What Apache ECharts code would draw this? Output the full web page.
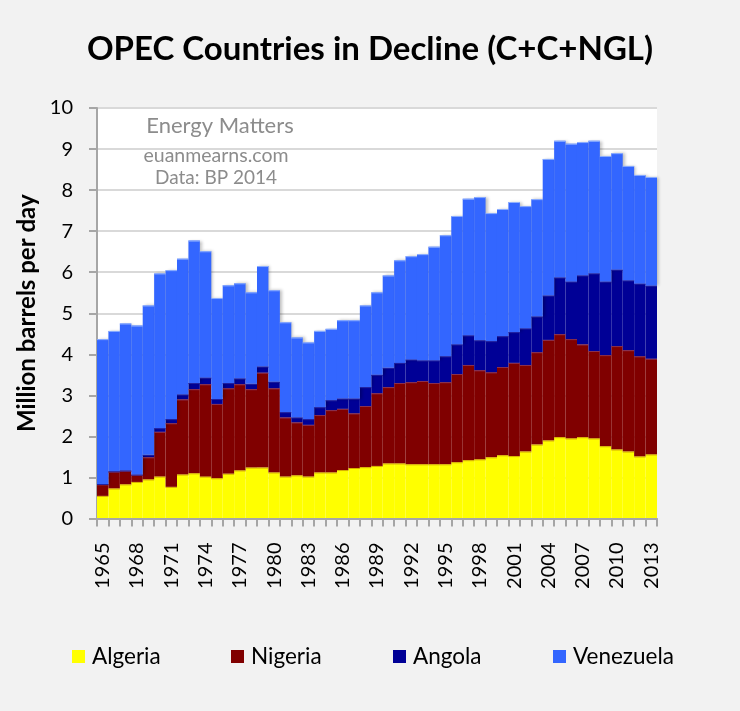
<!DOCTYPE html>
<html>
<head>
<meta charset="utf-8">
<script src="https://cdn.jsdelivr.net/npm/echarts@6/dist/echarts.min.js"></script>
<style>
html,body{margin:0;padding:0;background:#f2f2f2;}
#chart{width:740px;height:711px;}
</style>
</head>
<body>
<div id="chart"></div>
<script>
const years = [];
for (let y = 1965; y <= 2013; y++) years.push(String(y));

const algeria = [0.55,0.73,0.83,0.89,0.95,1.02,0.77,1.07,1.10,1.02,0.98,1.09,1.17,1.24,1.24,1.12,1.02,1.05,1.02,1.12,1.12,1.18,1.23,1.25,1.28,1.34,1.34,1.32,1.32,1.32,1.32,1.37,1.42,1.44,1.49,1.54,1.52,1.63,1.80,1.90,1.98,1.95,1.98,1.95,1.76,1.68,1.63,1.51,1.56];
const nigeria = [0.28,0.41,0.33,0.17,0.54,1.09,1.55,1.83,2.05,2.25,1.81,2.08,2.10,1.91,2.31,2.05,1.44,1.29,1.26,1.40,1.52,1.49,1.33,1.49,1.77,1.86,1.96,2.00,2.03,1.98,2.00,2.15,2.32,2.17,2.07,2.15,2.27,2.11,2.25,2.45,2.51,2.42,2.26,2.13,2.22,2.52,2.47,2.44,2.33];
const angola = [0.01,0.01,0.01,0.01,0.06,0.09,0.10,0.12,0.15,0.16,0.12,0.13,0.14,0.13,0.15,0.16,0.13,0.12,0.14,0.19,0.24,0.25,0.36,0.46,0.45,0.47,0.49,0.55,0.50,0.55,0.63,0.72,0.72,0.73,0.76,0.75,0.75,0.89,0.87,1.08,1.38,1.40,1.68,1.89,1.79,1.86,1.70,1.77,1.78];
const venezuela = [3.53,3.42,3.58,3.63,3.64,3.77,3.63,3.31,3.47,3.08,2.46,2.38,2.32,2.23,2.45,2.23,2.19,1.95,1.87,1.86,1.74,1.91,1.91,1.99,2.01,2.25,2.50,2.52,2.59,2.77,2.95,3.13,3.33,3.49,3.12,3.10,3.17,2.98,2.86,3.33,3.33,3.36,3.25,3.23,3.06,2.84,2.79,2.65,2.65];

const seriesNames = ['Algeria','Nigeria','Angola','Venezuela'];
const seriesColors = ['#ffff00','#800000','#000096','#3366ff'];
const edgeColors = ['#d8b000','#8a3050','#2020a0','#8fb0ff'];
const seriesData = [algeria, nigeria, angola, venezuela];

const FONT = 'Lato';
const legendLefts = [72, 231, 393, 553];

// cumulative tops for the thin edge line drawn on each layer
const cumTops = seriesData.map((arr, s) => arr.map((v, i) => {
  let t = 0;
  for (let k = 0; k <= s; k++) t += seriesData[k][i];
  return [i, +t.toFixed(3)];
}));

const chart = echarts.init(document.getElementById('chart'));

const barSeries = seriesNames.map((n, i) => ({
  name: n,
  type: 'bar',
  stack: 'total',
  barCategoryGap: 0,
  barGap: 0,
  data: seriesData[i],
  itemStyle: i === 3
    ? { color: seriesColors[i], shadowColor: 'rgba(0,0,0,0.25)', shadowBlur: 3, shadowOffsetX: 2, shadowOffsetY: 0 }
    : { color: seriesColors[i] },
  emphasis: { disabled: true },
  z: 2
}));

const edgeSeries = seriesNames.map((n, s) => ({
  type: 'custom',
  silent: true,
  z: 3,
  data: cumTops[s],
  renderItem: function (params, api) {
    const p = api.coord([api.value(0), api.value(1)]);
    const w = api.size([1, 0])[0];
    return {
      type: 'line',
      shape: { x1: p[0] - w / 2, y1: p[1] + 0.5, x2: p[0] + w / 2, y2: p[1] + 0.5 },
      style: { stroke: edgeColors[s], lineWidth: 1 }
    };
  }
}));

chart.setOption({
  backgroundColor: '#f2f2f2',
  animation: false,
  textStyle: { fontFamily: FONT },
  title: {
    text: 'OPEC Countries in Decline (C+C+NGL)',
    left: 'center',
    top: 28,
    textStyle: { fontFamily: FONT, fontWeight: 'bold', fontSize: 33, color: '#000' }
  },
  legend: seriesNames.map((n, i) => ({
    data: [n],
    left: legendLefts[i],
    top: 645,
    padding: 0,
    itemWidth: 13,
    itemHeight: 13,
    icon: 'rect',
    selectedMode: false,
    textStyle: { fontFamily: FONT, fontSize: 22.5, color: '#000', lineHeight: 22, padding: [0,0,0,2] }
  })),
  grid: { left: 97, right: 83, top: 108, bottom: 192.5, show: true, backgroundColor: '#ffffff', borderWidth: 0 },
  xAxis: {
    type: 'category',
    data: years,
    boundaryGap: true,
    axisLine: { show: true, lineStyle: { color: '#a6a6a6', width: 2 } },
    axisTick: { show: true, interval: 0, length: 8, lineStyle: { color: '#a6a6a6', width: 2 } },
    axisLabel: { interval: 2, rotate: 90, margin: 24, fontFamily: FONT, fontSize: 20, color: '#000' },
    splitLine: { show: false },
    z: 5
  },
  yAxis: {
    type: 'value',
    min: 0, max: 10, interval: 1,
    name: 'Million barrels per day',
    nameLocation: 'middle',
    nameRotate: 90,
    nameGap: 56,
    nameTextStyle: { fontFamily: FONT, fontWeight: 'bold', fontSize: 24, color: '#000' },
    axisLine: { show: true, lineStyle: { color: '#a6a6a6', width: 2 } },
    axisTick: { show: true, length: 8, lineStyle: { color: '#a6a6a6', width: 2 } },
    axisLabel: { margin: 24, fontFamily: FONT, fontSize: 20, color: '#000' },
    splitLine: { show: true, lineStyle: { color: '#d9d9d9', width: 2 } }
  },
  graphic: [
    { type: 'text', x: 220, y: 125.5, style: { text: 'Energy Matters', fill: '#8c8c8c', font: '22px Lato', textAlign: 'center', textVerticalAlign: 'middle' }, z: 100 },
    { type: 'text', x: 216, y: 156, style: { text: 'euanmearns.com', fill: '#8c8c8c', font: '19.5px Lato', textAlign: 'center', textVerticalAlign: 'middle' }, z: 100 },
    { type: 'text', x: 216, y: 178, style: { text: 'Data: BP 2014', fill: '#8c8c8c', font: '19px Lato', textAlign: 'center', textVerticalAlign: 'middle' }, z: 100 }
  ],
  series: barSeries.concat(edgeSeries)
});
</script>
</body>
</html>
